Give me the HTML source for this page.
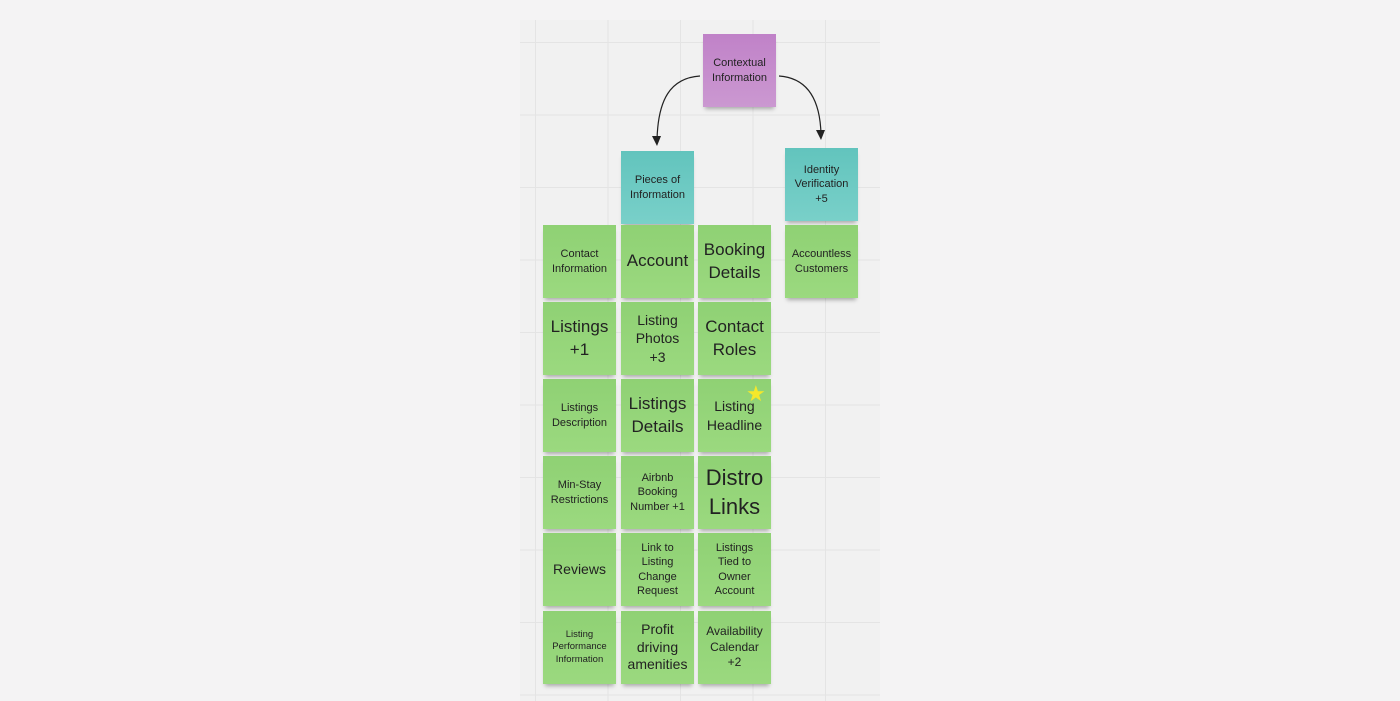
<!DOCTYPE html>
<html><head><style>
body{margin:0;width:1400px;height:701px;background:#f4f3f4;position:relative;overflow:hidden;font-family:"Liberation Sans","DejaVu Sans",sans-serif}
#c{position:absolute;left:520px;top:20px;width:360px;height:681px;background:#f1f1f1;
background-image:linear-gradient(90deg,#e4e4e4 1px,transparent 1px),linear-gradient(#e4e4e4 1px,transparent 1px);
background-size:72.5px 72.5px;background-position:15px 22px}
.n{position:absolute;width:73px;height:73px;display:flex;align-items:center;justify-content:center;text-align:center;color:#222;line-height:1.3;box-shadow:0 4px 4px -2px rgba(0,0,0,.3);background:linear-gradient(#8fd174,#9bd97f)}
.s{font-size:11px}.m{font-size:14px}.l{font-size:17px;line-height:1.3}.xl{font-size:22px}
.t{background:linear-gradient(#62c4bd,#79d0c9)}.p{background:linear-gradient(#c082c8,#cb98d1)}
</style></head><body>
<div id="c"></div>
<div class="n p s" style="left:703px;top:34px">Contextual<br>Information</div>
<div class="n t s" style="left:621px;top:151px">Pieces of<br>Information</div>
<div class="n t s" style="left:785px;top:148px">Identity<br>Verification<br>+5</div>
<svg style="position:absolute;left:0;top:0" width="1400" height="701">
<path d="M700 76 C670 78 658 100 657 140" fill="none" stroke="#222" stroke-width="1.2"/>
<path d="M652 136 L657 146 L661 136 Z" fill="#222"/>
<path d="M779 76 C808 78 820 100 821 134" fill="none" stroke="#222" stroke-width="1.2"/>
<path d="M816 130 L821 140 L825 130 Z" fill="#222"/>
</svg>
<div class="n s" style="left:543px;top:225px">Contact<br>Information</div>
<div class="n l" style="left:621px;top:225px">Account</div>
<div class="n l" style="left:698px;top:225px">Booking<br>Details</div>
<div class="n s" style="left:785px;top:225px">Accountless<br>Customers</div>
<div class="n l" style="left:543px;top:302px">Listings<br>+1</div>
<div class="n m" style="left:621px;top:302px">Listing<br>Photos<br>+3</div>
<div class="n l" style="left:698px;top:302px">Contact<br>Roles</div>
<div class="n s" style="left:543px;top:379px">Listings<br>Description</div>
<div class="n l" style="left:621px;top:379px">Listings<br>Details</div>
<div class="n m" style="left:698px;top:379px">Listing<br>Headline</div>
<div style="position:absolute;left:746px;top:381px;color:#f5e82a;font-size:22px">★</div>
<div class="n s" style="left:543px;top:456px">Min-Stay<br>Restrictions</div>
<div class="n s" style="left:621px;top:456px">Airbnb<br>Booking<br>Number +1</div>
<div class="n xl" style="left:698px;top:456px">Distro<br>Links</div>
<div class="n m" style="left:543px;top:533px">Reviews</div>
<div class="n s" style="left:621px;top:533px">Link to<br>Listing<br>Change<br>Request</div>
<div class="n s" style="left:698px;top:533px">Listings<br>Tied to<br>Owner<br>Account</div>
<div class="n" style="left:543px;top:611px;font-size:9.5px">Listing<br>Performance<br>Information</div>
<div class="n m" style="left:621px;top:611px;line-height:1.25">Profit<br>driving<br>amenities</div>
<div class="n s" style="left:698px;top:611px;font-size:12px">Availability<br>Calendar<br>+2</div>
</body></html>
